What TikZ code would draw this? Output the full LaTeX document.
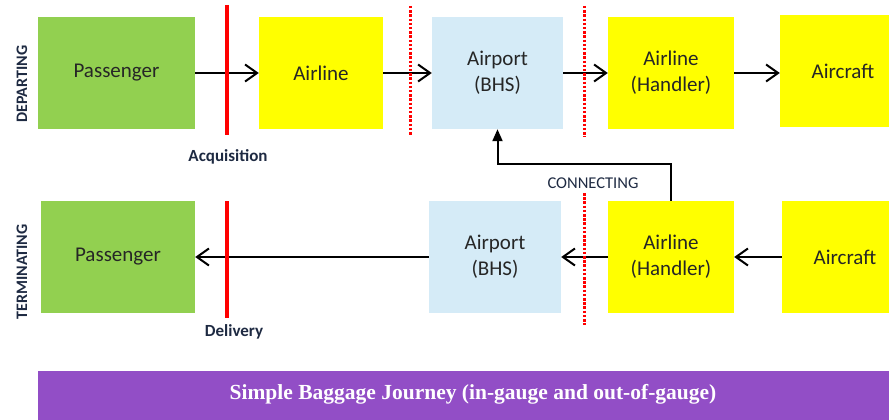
\documentclass[tikz,border=0pt]{standalone}
\usepackage{fontspec}
\setmainfont{Carlito}
\newfontfamily\titlefont{Liberation Serif}
\usetikzlibrary{arrows.meta}
\definecolor{pgreen}{RGB}{146,208,80}
\definecolor{pyellow}{RGB}{255,255,0}
\definecolor{pblue}{RGB}{213,235,247}
\definecolor{ppurple}{RGB}{146,78,198}
\definecolor{lblcol}{RGB}{30,42,66}
\definecolor{txtcol}{RGB}{38,38,38}
\definecolor{pred}{RGB}{255,0,0}
\tikzset{
  boxnode/.style={rectangle, inner sep=0pt, text=txtcol, font=\fontsize{21}{26}\selectfont, align=center},
  flow/.style={line width=2pt, -{Straight Barb[length=12pt,width=17pt,line width=2pt]}},
  conn/.style={line width=2pt, -{Triangle[length=12pt,width=10pt]}},
  solidred/.style={pred, line width=3.5pt},
  dotred/.style={pred, line width=3pt, dash pattern=on 2.5pt off 1.7pt},
  lbl/.style={text=lblcol, font=\bfseries\fontsize{17}{20}\selectfont, inner sep=0pt},
}
\begin{document}
\begin{tikzpicture}[x=1pt,y=-1pt]
\useasboundingbox (0,0) rectangle (889,420);
% top row
\node[boxnode, fill=pgreen, minimum width=157pt, minimum height=112pt] (p1) at (116.5,73) {Passenger};
\node[boxnode, fill=pyellow, minimum width=124pt, minimum height=112pt] (a1) at (321,73) {Airline};
\node[boxnode, fill=pblue, minimum width=131pt, minimum height=112pt] (b1) at (497.5,73) {Airport\\(BHS)};
\node[boxnode, fill=pyellow, minimum width=126pt, minimum height=112pt] (h1) at (671,73) {Airline\\(Handler)};
\node[boxnode, fill=pyellow, minimum width=126pt, minimum height=112pt] (c1) at (843,71) {Aircraft};
% bottom row
\node[boxnode, fill=pgreen, minimum width=154pt, minimum height=112pt] (p2) at (118,257) {Passenger};
\node[boxnode, fill=pblue, minimum width=132pt, minimum height=112pt] (b2) at (495,257) {Airport\\(BHS)};
\node[boxnode, fill=pyellow, minimum width=126pt, minimum height=112pt] (h2) at (671,257) {Airline\\(Handler)};
\node[boxnode, fill=pyellow, minimum width=126pt, minimum height=112pt] (c2) at (845,257) {Aircraft};
% flows
\draw[flow] (p1) -- (a1);
\draw[flow] (a1) -- (b1);
\draw[flow] (b1) -- (h1);
\draw[flow] (h1.east) -- (h1.east -| c1.west);
\draw[flow] (c2) -- (h2);
\draw[flow] (h2) -- (b2);
\draw[flow] (b2) -- (p2);
% connecting
\coordinate (cj) at (671,164);
\draw[conn] (h2.north) -- (cj) -| (b1.south);
\node[inner sep=0pt, text=lblcol, font=\fontsize{16.5}{19}\selectfont] (cl) at (593,183) {CONNECTING};
% boundary lines
\coordinate (r1t) at (227,5); \coordinate (r1b) at (227,135);
\coordinate (r2t) at (227,201); \coordinate (r2b) at (227,318);
\coordinate (d1t) at (410,6); \coordinate (d1b) at (410,135);
\coordinate (d2t) at (584,6); \coordinate (d2b) at (584,137);
\coordinate (d3t) at (584,193); \coordinate (d3b) at (584,325);
\draw[solidred] (r1t) -- (r1b);
\draw[solidred] (r2t) -- (r2b);
\draw[dotred] (d1t) -- (d1b);
\draw[dotred] (d2t) -- (d2b);
\draw[dotred] (d3t) -- (d3b);
% labels
\node[lbl] (acq) at (228,157) {Acquisition};
\node[lbl] (del) at (234,332) {Delivery};
\node[lbl, font=\bfseries\fontsize{16}{19}\selectfont, rotate=90] (dep) at (22,84) {DEPARTING};
\node[lbl, font=\bfseries\fontsize{16}{19}\selectfont, rotate=90] (term) at (22,272) {TERMINATING};
% title band
\node[rectangle, fill=ppurple, inner sep=0pt, minimum width=851pt, minimum height=49pt] (band) at (463.5,395.5) {};
\node[text=white, font=\titlefont\bfseries\fontsize{21.5}{24}\selectfont, inner sep=0pt] (title) at (473,394) {Simple Baggage Journey (in-gauge and out-of-gauge)};
\end{tikzpicture}
\end{document}
